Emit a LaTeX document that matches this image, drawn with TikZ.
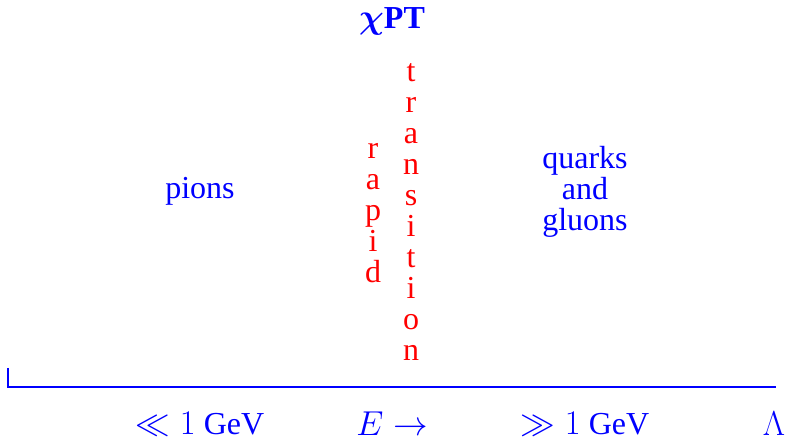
\documentclass[tikz,border=0pt]{standalone}
\usepackage{fontspec}
\setmainfont{Liberation Serif}
\begin{document}
\begin{tikzpicture}[x=0.5pt,y=0.5pt,
  lbl/.style={text=blue,font=\rmfamily\fontsize{16}{15.5}\selectfont,inner sep=0pt,align=center},
  vert/.style={text=red,font=\rmfamily\fontsize{16}{15.5}\selectfont,inner sep=0pt,align=center},
  axis/.style={draw=blue,line width=0.7pt}]
\useasboundingbox (0,0) rectangle (789,440);
\node[lbl,font=\rmfamily\fontsize{16}{15.5}\selectfont\bfseries\boldmath] (title) at (392,419) {$\chi$PT};
\node[lbl] (pions) at (200,249) {pions};
\node[vert] (rapid) at (373,227) {r\\a\\p\\i\\d};
\node[vert] (trans) at (411,228) {t\\r\\a\\n\\s\\i\\t\\i\\o\\n};
\node[lbl] (qg) at (585,248) {quarks\\and\\gluons};
\coordinate (tick) at (8,72);
\coordinate (corner) at (8,53);
\coordinate (end) at (776,53);
\draw[axis] (tick) -- (corner) -- (end);
\node[lbl] (low) at (200,16) {$\ll1$ GeV};
\node[lbl] (E) at (392,16) {$E\rightarrow$};
\node[lbl] (high) at (585,16) {$\gg1$ GeV};
\node[lbl] (Lam) at (774,16) {$\Lambda$};
\end{tikzpicture}
\end{document}
